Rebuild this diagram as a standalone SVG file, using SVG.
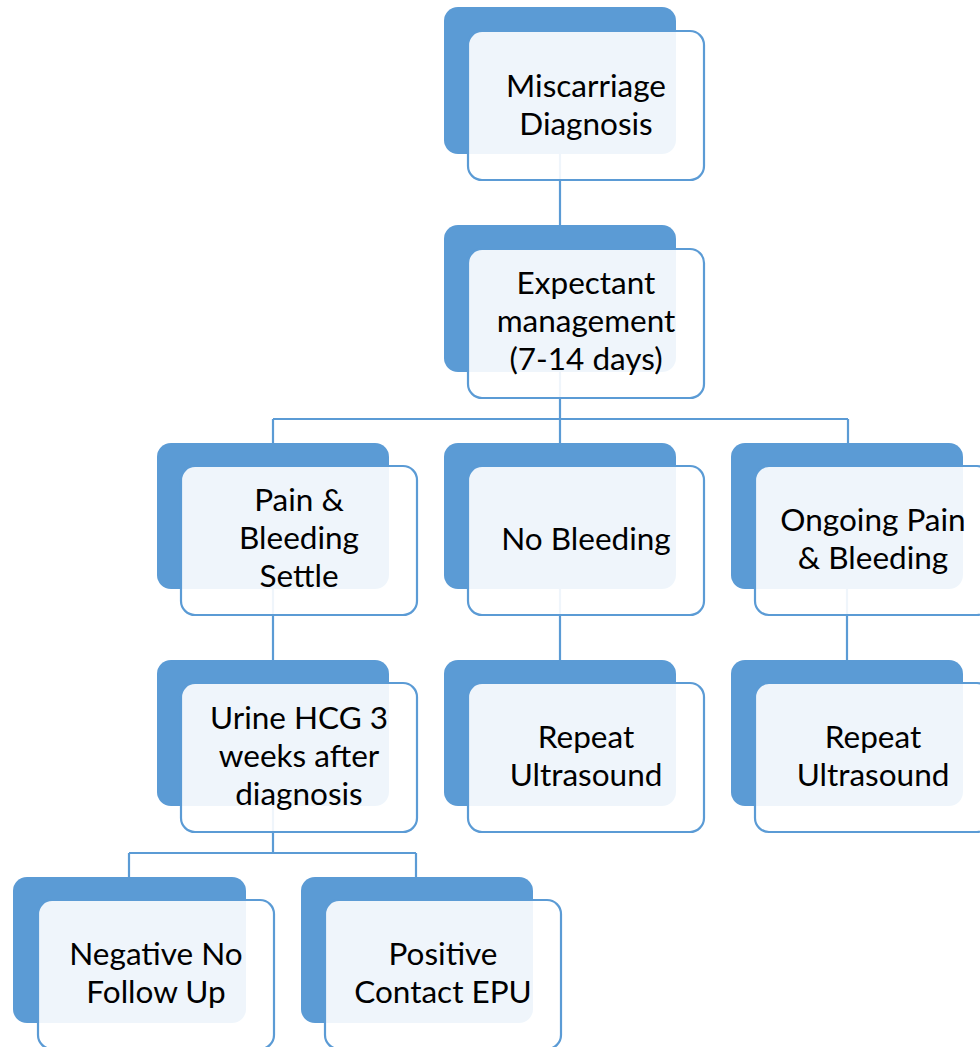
<svg xmlns="http://www.w3.org/2000/svg" width="980" height="1047" viewBox="0 0 980 1047">
<style>
.b{fill:#5B9BD5}
.w{fill:#FFFFFF;fill-opacity:0.9;stroke:#5B9BD5;stroke-width:2.2}
.c{fill:none;stroke:#5B9BD5;stroke-width:2.2}
text{font-family:Lato,"Liberation Sans",sans-serif;font-size:31.5px;fill:#000;text-anchor:middle}
</style>
<rect width="980" height="1047" fill="#FFFFFF"/>
<g id="connectors">
<path class="c" d="M560 154V225"/>
<path class="c" d="M560 371V443M273 419H848M273 419V443M848 419V443"/>
<path class="c" d="M273 589V660M560 589V660M847 589V660"/>
<path class="c" d="M273 806V853M129 853H416M129 853V877M416 853V877"/>
</g>
<g id="n1"><rect class="b" x="444" y="7" width="232" height="147" rx="14"/><rect class="w" x="468" y="31" width="236" height="149" rx="14"/>
<text><tspan x="586" y="97">Miscarriage</tspan><tspan x="586" y="135">Diagnosis</tspan></text></g>
<g id="n2"><rect class="b" x="444" y="225" width="232" height="147" rx="14"/><rect class="w" x="468" y="249" width="236" height="149" rx="14"/>
<text><tspan x="586" y="294">Expectant</tspan><tspan x="586" y="332">management</tspan><tspan x="586" y="370">(7-14 days)</tspan></text></g>
<g id="n3a"><rect class="b" x="157" y="443" width="232" height="146" rx="14"/><rect class="w" x="181" y="466" width="236" height="149" rx="14"/>
<text><tspan x="299" y="511">Pain &amp;</tspan><tspan x="299" y="549">Bleeding</tspan><tspan x="299" y="587">Settle</tspan></text></g>
<g id="n3b"><rect class="b" x="444" y="443" width="232" height="146" rx="14"/><rect class="w" x="468" y="466" width="236" height="149" rx="14"/>
<text><tspan x="586" y="550">No Bleeding</tspan></text></g>
<g id="n3c"><rect class="b" x="731" y="443" width="232" height="146" rx="14"/><rect class="w" x="755" y="466" width="236" height="149" rx="14"/>
<text><tspan x="873" y="531">Ongoing Pain</tspan><tspan x="873" y="569">&amp; Bleeding</tspan></text></g>
<g id="n4a"><rect class="b" x="157" y="660" width="232" height="146" rx="14"/><rect class="w" x="181" y="683" width="236" height="149" rx="14"/>
<text><tspan x="299" y="729">Urine HCG 3</tspan><tspan x="299" y="767">weeks after</tspan><tspan x="299" y="805">diagnosis</tspan></text></g>
<g id="n4b"><rect class="b" x="444" y="660" width="232" height="146" rx="14"/><rect class="w" x="468" y="683" width="236" height="149" rx="14"/>
<text><tspan x="586" y="748">Repeat</tspan><tspan x="586" y="786">Ultrasound</tspan></text></g>
<g id="n4c"><rect class="b" x="731" y="660" width="232" height="146" rx="14"/><rect class="w" x="755" y="683" width="236" height="149" rx="14"/>
<text><tspan x="873" y="748">Repeat</tspan><tspan x="873" y="786">Ultrasound</tspan></text></g>
<g id="n5a"><rect class="b" x="13" y="877" width="233" height="146" rx="14"/><rect class="w" x="38" y="900" width="236" height="149" rx="14"/>
<text><tspan x="156" y="965">Negative No</tspan><tspan x="156" y="1003">Follow Up</tspan></text></g>
<g id="n5b"><rect class="b" x="301" y="877" width="232" height="146" rx="14"/><rect class="w" x="325" y="900" width="236" height="149" rx="14"/>
<text><tspan x="443" y="965">Positive</tspan><tspan x="443" y="1003">Contact EPU</tspan></text></g>
</svg>
